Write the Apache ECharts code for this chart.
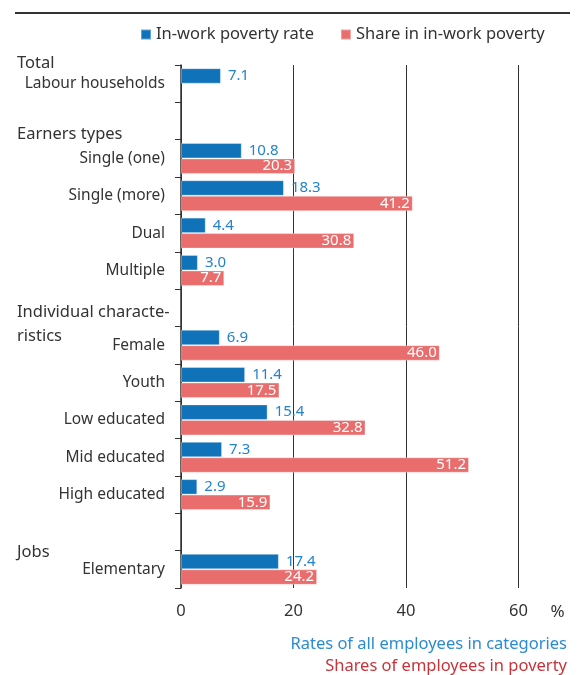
<!DOCTYPE html>
<html><head><meta charset="utf-8">
<script src="https://cdn.jsdelivr.net/npm/echarts@6/dist/echarts.min.js"></script>
<style>html,body{margin:0;padding:0;background:#fff}#c{width:583px;height:675px}</style>
</head><body><div id="c"></div>
<script>
const categories = ['Labour households', ' ', 'Single (one)', 'Single (more)', 'Dual', 'Multiple', '  ',
  'Female', 'Youth', 'Low educated', 'Mid educated', 'High educated', '   ', 'Elementary'];
const rateValues = [7.1, null, 10.8, 18.3, 4.4, 3.0, null, 6.9, 11.4, 15.4, 7.3, 2.9, null, 17.4];
const shareValues = [null, null, 20.3, 41.2, 30.8, 7.7, null, 46.0, 17.5, 32.8, 51.2, 15.9, null, 24.2];
const xTicks = [0, 20, 40, 60];
const headers = [
  {text: 'Total', cat: 0, dy: -20},
  {text: 'Earners types', cat: 1, dy: 13},
  {text: 'Individual characte-', cat: 6, dy: 4},
  {text: 'ristics', cat: 6, dy: 28},
  {text: 'Jobs', cat: 12, dy: 20}
];
const FONT = 'Noto Sans';
const chart = echarts.init(document.getElementById('c'), null, {renderer: 'canvas'});
const GRID = {left: 181, right: 64.5, top: 65, bottom: 87};
chart.setOption({
  animation: false,
  textStyle: {fontFamily: FONT},
  legend: {
    top: 21, left: 135,
    itemWidth: 10, itemHeight: 10, itemGap: 26,
    icon: 'rect',
    textStyle: {fontSize: 16.5, color: '#333', fontFamily: FONT},
    data: ['In-work poverty rate', 'Share in in-work poverty']
  },
  grid: GRID,
  xAxis: {
    type: 'value', min: xTicks[0], max: xTicks[xTicks.length - 1], interval: 20,
    axisLine: {show: false}, axisTick: {show: false},
    splitLine: {show: true, lineStyle: {color: '#333', width: 1}},
    axisLabel: {fontSize: 16.5, color: '#333', margin: 15, fontFamily: FONT,
      customValues: xTicks},
    name: '%', nameLocation: 'end', nameGap: 32,
    nameTextStyle: {fontSize: 17, color: '#333', verticalAlign: 'top', padding: [16, 0, 0, 0], fontFamily: FONT}
  },
  yAxis: {
    type: 'category', data: categories, inverse: true,
    axisLine: {show: true, lineStyle: {color: '#333', width: 1.5}},
    axisTick: {show: true, length: 6, lineStyle: {color: '#333'}},
    axisLabel: {fontSize: 15.5, color: '#333', margin: 16, fontFamily: FONT}
  },
  series: [
    {
      name: 'In-work poverty rate', type: 'bar', data: rateValues,
      barGap: '0%', barCategoryGap: '17%',
      itemStyle: {color: '#1073BA', borderColor: 'rgba(255,255,255,0.35)', borderWidth: 1},
      label: {show: true, position: 'right', distance: 7, color: '#2383CB', fontSize: 15, fontFamily: FONT,
        formatter: p => p.value == null ? '' : p.value.toFixed(1)}
    },
    {
      name: 'Share in in-work poverty', type: 'bar', data: shareValues,
      barGap: '0%', barCategoryGap: '17%',
      itemStyle: {color: '#E96D6D', borderColor: 'rgba(255,255,255,0.35)', borderWidth: 1},
      label: {show: true, position: 'insideRight', distance: 3, color: '#fff', fontSize: 15, fontFamily: FONT,
        formatter: p => p.value == null ? '' : p.value.toFixed(1)}
    }
  ]
});
const slot = (675 - GRID.top - GRID.bottom) / categories.length;
const g = [
  {type: 'line', shape: {x1: 15, y1: 13, x2: 570, y2: 13}, style: {stroke: '#333', lineWidth: 2}},
  {type: 'text', right: 16, top: 636, style: {text: 'Rates of all employees in categories', fill: '#2B8BD2', fontSize: 16.5, fontFamily: FONT}},
  {type: 'text', right: 16, top: 658, style: {text: 'Shares of employees in poverty', fill: '#C8343C', fontSize: 16.5, fontFamily: FONT}}
];
headers.forEach(h => {
  const y = GRID.top + slot * h.cat + slot / 2 + h.dy;
  g.push({type: 'text', x: 17, y: y, style: {text: h.text, fill: '#333', fontSize: 16.5, fontFamily: FONT, verticalAlign: 'middle'}});
});
chart.setOption({graphic: g});
</script></body></html>
